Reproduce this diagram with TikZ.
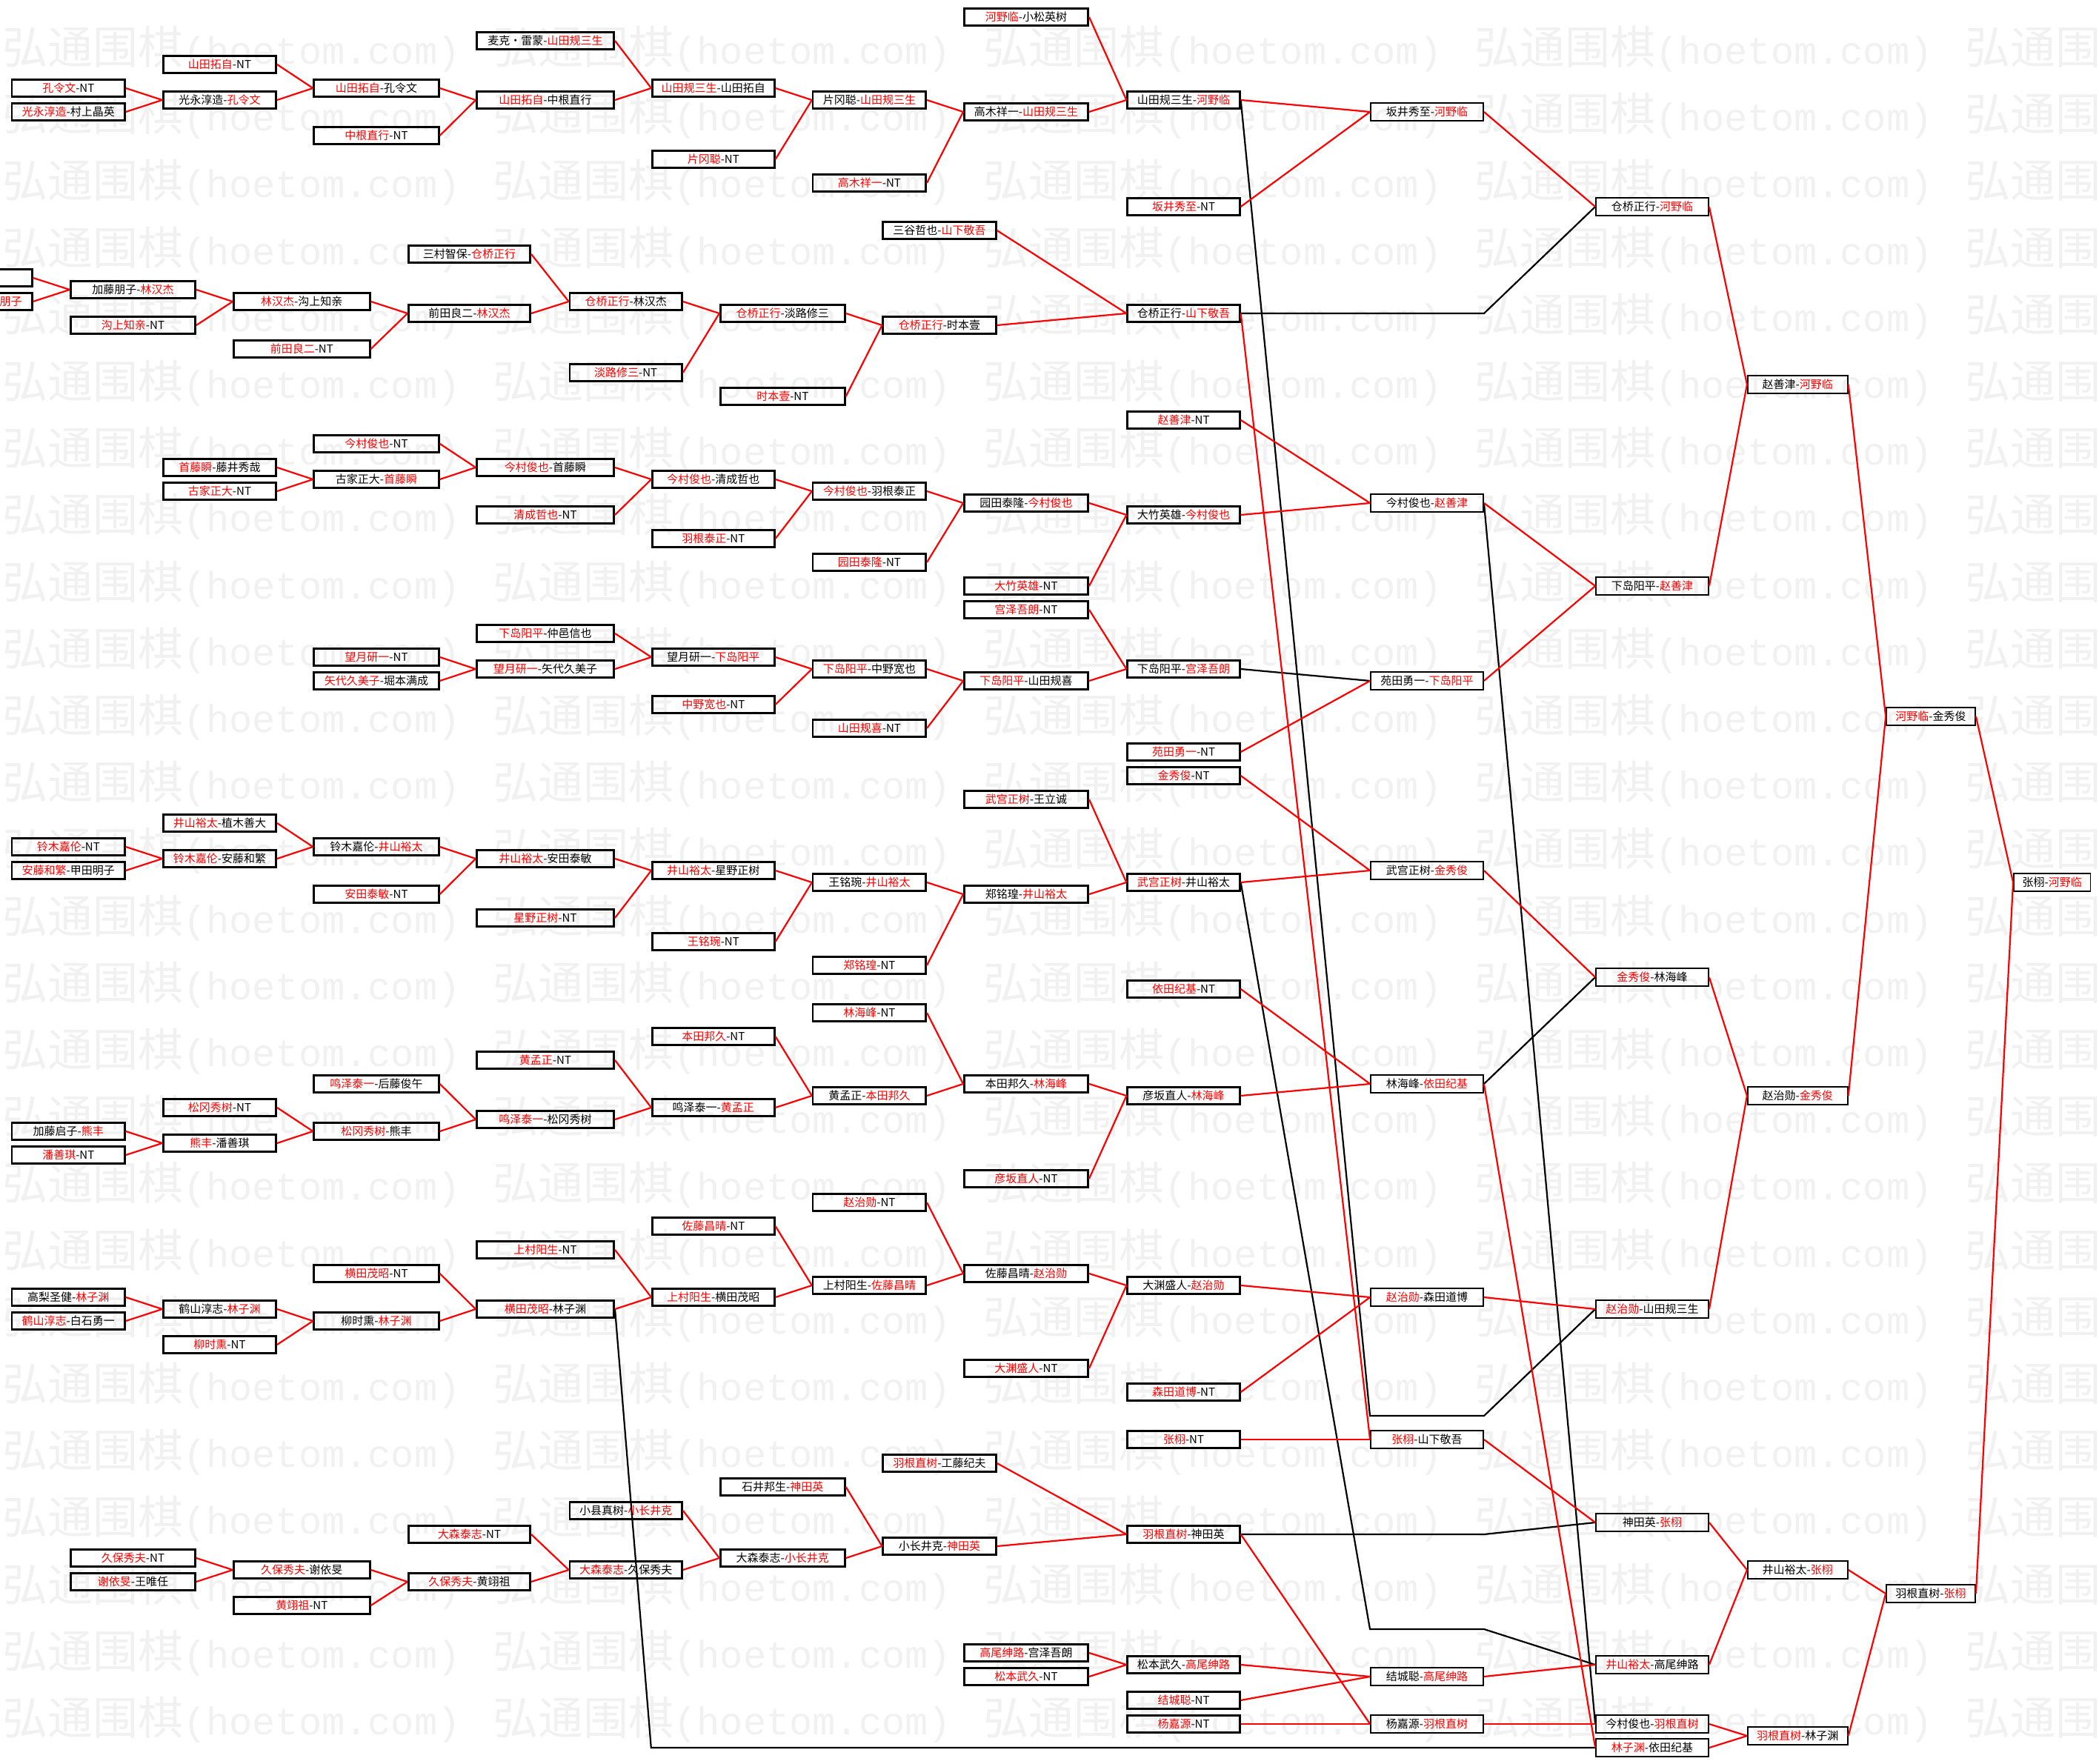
\documentclass[tikz,border=0pt]{standalone}
\usepackage{fontspec}
\setmainfont{Noto Sans CJK SC}
\newfontfamily\markcjk{Noto Sans CJK SC}
\newfontfamily\markmono{Liberation Mono}
\usepackage{xcolor}
\definecolor{WinRed}{HTML}{FF0000}
\definecolor{Mark}{HTML}{F1F1F1}
\newcommand{\win}[1]{\textcolor{WinRed}{#1}}
\newcommand{\hoetom}{{\markcjk\fontsize{61}{61}\selectfont 弘通围棋}{\markmono\fontsize{52}{52}\selectfont (hoetom.com)}}
\tikzset{
  tie/.style={draw=black, line width=2.6pt, minimum height=22.9pt, inner sep=0pt,
              font=\fontsize{15}{15}\selectfont},
  tieR/.style={tie, line width=1.8pt, minimum height=23.7pt},
  cA/.style={tie, minimum width=152.4pt},
  cB/.style={tie, minimum width=152.4pt},
  cC/.style={tie, minimum width=168.7pt},
  cD/.style={tie, minimum width=185.4pt},
  cE/.style={tie, minimum width=165pt},
  cF/.style={tie, minimum width=152.6pt},
  cG/.style={tie, minimum width=167.4pt},
  cH/.style={tie, minimum width=151.7pt},
  cI/.style={tieR, minimum width=152pt},
  cJ/.style={tieR, minimum width=152pt},
  cK/.style={tieR, minimum width=135pt},
  cL/.style={tieR, minimum width=120pt},
  cM/.style={tieR, minimum width=103.5pt},
  cP/.style={tie, minimum width=152.4pt},
  cBp/.style={tie, minimum width=168.2pt},
  cCp/.style={tie, minimum width=183.9pt},
  cDp/.style={tie, minimum width=164.4pt},
  cEp/.style={tie, minimum width=151.7pt},
  cFp/.style={tie, minimum width=168.2pt},
  cGp/.style={tie, minimum width=152.5pt},
  win/.style={draw=WinRed, line width=2.2pt},
  lose/.style={draw=black, line width=2.2pt},
  wmark/.style={text=Mark, anchor=west, inner sep=0pt},
}

\begin{document}
\begin{tikzpicture}[x=1pt, y=-16pt]
  \useasboundingbox (0,-1.4375) rectangle (2833,147.375);
  \fill[white] (0,-1.4375) rectangle (2833,147.375);
  % watermark
  \foreach \wr in {0,...,25}
    \foreach \wc in {0,...,4}
      \node[wmark] at ({3+662.3*\wc}, {2.706+5.6375*\wr}) {\hoetom};

  % top bracket
  \node[cA] (A6) at (92.3,6) {\win{孔令文}-NT};
  \node[cA] (A8) at (92.3,8) {\win{光永淳造}-村上晶英};
  \node[cB] (B4) at (296.5,4) {\win{山田拓自}-NT};
  \node[cB] (B7) at (296.5,7) {光永淳造-\win{孔令文}};
  \node[cC] (C6) at (508,6) {\win{山田拓自}-孔令文};
  \node[cC] (C10) at (508,10) {\win{中根直行}-NT};
  \node[cD] (D2) at (736,2) {麦克・雷蒙-\win{山田规三生}};
  \node[cD] (D7) at (736,7) {\win{山田拓自}-中根直行};
  \node[cE] (E6) at (962.8,6) {\win{山田规三生}-山田拓自};
  \node[cE] (E12) at (962.8,12) {\win{片冈聪}-NT};
  \node[cF] (F7) at (1173.4,7) {片冈聪-\win{山田规三生}};
  \node[cF] (F14) at (1173.4,14) {\win{高木祥一}-NT};
  \node[cG] (G0) at (1385,0) {\win{河野临}-小松英树};
  \node[cG] (G8) at (1385,8) {高木祥一-\win{山田规三生}};
  \node[cH] (H7) at (1597.5,7) {山田规三生-\win{河野临}};
  \node[cH] (H16) at (1597.5,16) {\win{坂井秀至}-NT};
  \node[cI] (I8) at (1926,8) {坂井秀至-\win{河野临}};
  \node[cJ] (J16) at (2230,16) {仓桥正行-\win{河野临}};
  \node[cK] (K31) at (2426.3,31) {赵善津-\win{河野临}};

  % second bracket
  \node[cP] (P22) at (-33,22) {};
  \node[cP] (P24) at (-33,24) {\hphantom{加藤朋子-}\win{加藤朋子}};
  \node[cBp] (Bp23) at (179.5,23) {加藤朋子-\win{林汉杰}};
  \node[cBp] (Bp26) at (179.5,26) {\win{沟上知亲}-NT};
  \node[cCp] (Cp24) at (407.3,24) {\win{林汉杰}-沟上知亲};
  \node[cCp] (Cp28) at (407.3,28) {\win{前田良二}-NT};
  \node[cDp] (Dp20) at (633.5,20) {三村智保-\win{仓桥正行}};
  \node[cDp] (Dp25) at (633.5,25) {前田良二-\win{林汉杰}};
  \node[cEp] (Ep24) at (844.7,24) {\win{仓桥正行}-林汉杰};
  \node[cEp] (Ep30) at (844.7,30) {\win{淡路修三}-NT};
  \node[cFp] (Fp25) at (1056.3,25) {\win{仓桥正行}-淡路修三};
  \node[cFp] (Fp32) at (1056.3,32) {\win{时本壹}-NT};
  \node[cGp] (Gp18) at (1268,18) {三谷哲也-\win{山下敬吾}};
  \node[cGp] (Gp26) at (1268,26) {\win{仓桥正行}-时本壹};
  \node[cH] (H25) at (1597.5,25) {仓桥正行-\win{山下敬吾}};

  % third bracket
  \node[cC] (C36) at (508,36) {\win{今村俊也}-NT};
  \node[cB] (B38) at (296.5,38) {\win{首藤瞬}-藤井秀哉};
  \node[cB] (B40) at (296.5,40) {\win{古家正大}-NT};
  \node[cC] (C39) at (508,39) {古家正大-\win{首藤瞬}};
  \node[cD] (D38) at (736,38) {\win{今村俊也}-首藤瞬};
  \node[cD] (D42) at (736,42) {\win{清成哲也}-NT};
  \node[cE] (E39) at (962.8,39) {\win{今村俊也}-清成哲也};
  \node[cE] (E44) at (962.8,44) {\win{羽根泰正}-NT};
  \node[cF] (F40) at (1173.4,40) {\win{今村俊也}-羽根泰正};
  \node[cF] (F46) at (1173.4,46) {\win{园田泰隆}-NT};
  \node[cG] (G41) at (1385,41) {园田泰隆-\win{今村俊也}};
  \node[cG] (G48) at (1385,48) {\win{大竹英雄}-NT};
  \node[cH] (H34) at (1597.5,34) {\win{赵善津}-NT};
  \node[cH] (H42) at (1597.5,42) {大竹英雄-\win{今村俊也}};
  \node[cI] (I41) at (1926,41) {今村俊也-\win{赵善津}};
  \node[cJ] (J48) at (2230,48) {下岛阳平-\win{赵善津}};

  % fourth bracket
  \node[cD] (D52) at (736,52) {\win{下岛阳平}-仲邑信也};
  \node[cC] (C54) at (508,54) {\win{望月研一}-NT};
  \node[cC] (C56) at (508,56) {\win{矢代久美子}-堀本满成};
  \node[cD] (D55) at (736,55) {\win{望月研一}-矢代久美子};
  \node[cE] (E54) at (962.8,54) {望月研一-\win{下岛阳平}};
  \node[cE] (E58) at (962.8,58) {\win{中野宽也}-NT};
  \node[cF] (F55) at (1173.4,55) {\win{下岛阳平}-中野宽也};
  \node[cF] (F60) at (1173.4,60) {\win{山田规喜}-NT};
  \node[cG] (G50) at (1385,50) {\win{宫泽吾朗}-NT};
  \node[cG] (G56) at (1385,56) {\win{下岛阳平}-山田规喜};
  \node[cH] (H55) at (1597.5,55) {下岛阳平-\win{宫泽吾朗}};
  \node[cH] (H62) at (1597.5,62) {\win{苑田勇一}-NT};
  \node[cH] (H64) at (1597.5,64) {\win{金秀俊}-NT};
  \node[cI] (I56) at (1926,56) {苑田勇一-\win{下岛阳平}};

  % fifth bracket
  \node[cB] (B68) at (296.5,68) {\win{井山裕太}-植木善大};
  \node[cA] (A70) at (92.3,70) {\win{铃木嘉伦}-NT};
  \node[cA] (A72) at (92.3,72) {\win{安藤和繁}-甲田明子};
  \node[cB] (B71) at (296.5,71) {\win{铃木嘉伦}-安藤和繁};
  \node[cC] (C70) at (508,70) {铃木嘉伦-\win{井山裕太}};
  \node[cC] (C74) at (508,74) {\win{安田泰敏}-NT};
  \node[cD] (D71) at (736,71) {\win{井山裕太}-安田泰敏};
  \node[cD] (D76) at (736,76) {\win{星野正树}-NT};
  \node[cE] (E72) at (962.8,72) {\win{井山裕太}-星野正树};
  \node[cE] (E78) at (962.8,78) {\win{王铭琬}-NT};
  \node[cF] (F73) at (1173.4,73) {王铭琬-\win{井山裕太}};
  \node[cF] (F80) at (1173.4,80) {\win{郑铭瑝}-NT};
  \node[cG] (G66) at (1385,66) {\win{武宫正树}-王立诚};
  \node[cG] (G74) at (1385,74) {郑铭瑝-\win{井山裕太}};
  \node[cH] (H73) at (1597.5,73) {\win{武宫正树}-井山裕太};
  \node[cI] (I72) at (1926,72) {武宫正树-\win{金秀俊}};
  \node[cJ] (J81) at (2230,81) {\win{金秀俊}-林海峰};
  \node[cL] (L59) at (2606,59) {\win{河野临}-金秀俊};
  \node[cM] (M73) at (2769.7,73) {张栩-\win{河野临}};

  % sixth bracket
  \node[cC] (C90) at (508,90) {\win{鸣泽泰一}-后藤俊午};
  \node[cB] (B92) at (296.5,92) {\win{松冈秀树}-NT};
  \node[cA] (A94) at (92.3,94) {加藤启子-\win{熊丰}};
  \node[cA] (A96) at (92.3,96) {\win{潘善琪}-NT};
  \node[cB] (B95) at (296.5,95) {\win{熊丰}-潘善琪};
  \node[cC] (C94) at (508,94) {\win{松冈秀树}-熊丰};
  \node[cD] (D88) at (736,88) {\win{黄孟正}-NT};
  \node[cD] (D93) at (736,93) {\win{鸣泽泰一}-松冈秀树};
  \node[cE] (E86) at (962.8,86) {\win{本田邦久}-NT};
  \node[cE] (E92) at (962.8,92) {鸣泽泰一-\win{黄孟正}};
  \node[cF] (F84) at (1173.4,84) {\win{林海峰}-NT};
  \node[cF] (F91) at (1173.4,91) {黄孟正-\win{本田邦久}};
  \node[cG] (G90) at (1385,90) {本田邦久-\win{林海峰}};
  \node[cG] (G98) at (1385,98) {\win{彦坂直人}-NT};
  \node[cH] (H82) at (1597.5,82) {\win{依田纪基}-NT};
  \node[cH] (H91) at (1597.5,91) {彦坂直人-\win{林海峰}};
  \node[cI] (I90) at (1926,90) {林海峰-\win{依田纪基}};
  \node[cK] (K91) at (2426.3,91) {赵治勋-\win{金秀俊}};

  % seventh bracket
  \node[cF] (F100) at (1173.4,100) {\win{赵治勋}-NT};
  \node[cE] (E102) at (962.8,102) {\win{佐藤昌晴}-NT};
  \node[cD] (D104) at (736,104) {\win{上村阳生}-NT};
  \node[cC] (C106) at (508,106) {\win{横田茂昭}-NT};
  \node[cA] (A108) at (92.3,108) {高梨圣健-\win{林子渊}};
  \node[cA] (A110) at (92.3,110) {\win{鹤山淳志}-白石勇一};
  \node[cB] (B109) at (296.5,109) {鹤山淳志-\win{林子渊}};
  \node[cB] (B112) at (296.5,112) {\win{柳时熏}-NT};
  \node[cC] (C110) at (508,110) {柳时熏-\win{林子渊}};
  \node[cD] (D109) at (736,109) {\win{横田茂昭}-林子渊};
  \node[cE] (E108) at (962.8,108) {\win{上村阳生}-横田茂昭};
  \node[cF] (F107) at (1173.4,107) {上村阳生-\win{佐藤昌晴}};
  \node[cG] (G106) at (1385,106) {佐藤昌晴-\win{赵治勋}};
  \node[cG] (G114) at (1385,114) {\win{大渊盛人}-NT};
  \node[cH] (H107) at (1597.5,107) {大渊盛人-\win{赵治勋}};
  \node[cH] (H116) at (1597.5,116) {\win{森田道博}-NT};
  \node[cH] (H120) at (1597.5,120) {\win{张栩}-NT};
  \node[cI] (I108) at (1926,108) {\win{赵治勋}-森田道博};
  \node[cI] (I120) at (1926,120) {\win{张栩}-山下敬吾};
  \node[cJ] (J109) at (2230,109) {\win{赵治勋}-山田规三生};

  % eighth bracket
  \node[cGp] (Gp122) at (1268,122) {\win{羽根直树}-工藤纪夫};
  \node[cFp] (Fp124) at (1056.3,124) {石井邦生-\win{神田英}};
  \node[cEp] (Ep126) at (844.7,126) {小县真树-\win{小长井克}};
  \node[cDp] (Dp128) at (633.5,128) {\win{大森泰志}-NT};
  \node[cBp] (Bp130) at (179.5,130) {\win{久保秀夫}-NT};
  \node[cBp] (Bp132) at (179.5,132) {\win{谢依旻}-王唯任};
  \node[cCp] (Cp131) at (407.3,131) {\win{久保秀夫}-谢依旻};
  \node[cCp] (Cp134) at (407.3,134) {\win{黄翊祖}-NT};
  \node[cDp] (Dp132) at (633.5,132) {\win{久保秀夫}-黄翊祖};
  \node[cEp] (Ep131) at (844.7,131) {\win{大森泰志}-久保秀夫};
  \node[cFp] (Fp130) at (1056.3,130) {大森泰志-\win{小长井克}};
  \node[cGp] (Gp129) at (1268,129) {小长井克-\win{神田英}};
  \node[cH] (H128) at (1597.5,128) {\win{羽根直树}-神田英};
  \node[cJ] (J127) at (2230,127) {神田英-\win{张栩}};
  \node[cK] (K131) at (2426.3,131) {井山裕太-\win{张栩}};
  \node[cL] (L133) at (2606,133) {羽根直树-\win{张栩}};
  \node[cG] (G138) at (1385,138) {\win{高尾绅路}-宫泽吾朗};
  \node[cG] (G140) at (1385,140) {\win{松本武久}-NT};
  \node[cH] (H139) at (1597.5,139) {松本武久-\win{高尾绅路}};
  \node[cH] (H142) at (1597.5,142) {\win{结城聪}-NT};
  \node[cH] (H144) at (1597.5,144) {\win{杨嘉源}-NT};
  \node[cI] (I140) at (1926,140) {结城聪-\win{高尾绅路}};
  \node[cI] (I144) at (1926,144) {杨嘉源-\win{羽根直树}};
  \node[cJ] (J139) at (2230,139) {\win{井山裕太}-高尾绅路};
  \node[cJ] (J144) at (2230,144) {今村俊也-\win{羽根直树}};
  \node[cJ] (J146) at (2230,146) {\win{林子渊}-依田纪基};
  \node[cK] (K145) at (2426.3,145) {\win{羽根直树}-林子渊};

  % losers' paths
  \foreach \a/\b in {H55/I56, I90/J81, I41/J144}
    \draw[lose] (\a.east) -- (\b.west);
  \draw[lose] (H7.east) -- (1849,118) -- (2003,118) -- (J109.west);
  \draw[lose] (H25.east) -- (2003,25) -- (J16.west);
  \draw[lose] (H73.east) -- (1849,136) -- (2003,136) -- (J139.west);
  \draw[lose] (H128.east) -- (2003,128) -- (J127.west);
  \draw[lose] (D109.east) -- (878.8,146) -- (J146.west);

  % winners' paths
  \foreach \a/\b in {A6/B7, A8/B7, B4/C6, B7/C6, C6/D7, C10/D7, D2/E6, D7/E6, E6/F7, E12/F7,
      F7/G8, F14/G8, G0/H7, G8/H7, H7/I8, H16/I8, I8/J16, J16/K31, K31/L59, L59/M73,
      P22/Bp23, P24/Bp23, Bp23/Cp24, Bp26/Cp24, Cp24/Dp25, Cp28/Dp25, Dp20/Ep24, Dp25/Ep24,
      Ep24/Fp25, Ep30/Fp25, Fp25/Gp26, Fp32/Gp26, Gp18/H25, Gp26/H25, H25/I120,
      B38/C39, B40/C39, C36/D38, C39/D38, D38/E39, D42/E39, E39/F40, E44/F40, F40/G41,
      F46/G41, G41/H42, G48/H42, H34/I41, H42/I41, I41/J48, J48/K31,
      C54/D55, C56/D55, D52/E54, D55/E54, E54/F55, E58/F55, F55/G56, F60/G56, G50/H55,
      G56/H55, H62/I56, I56/J48,
      A70/B71, A72/B71, B68/C70, B71/C70, C70/D71, C74/D71, D71/E72, D76/E72, E72/F73,
      E78/F73, F73/G74, F80/G74, G66/H73, G74/H73, H73/I72, H64/I72, I72/J81, J81/K91, K91/L59,
      A94/B95, A96/B95, B92/C94, B95/C94, C90/D93, C94/D93, D88/E92, D93/E92, E86/F91,
      E92/F91, F84/G90, F91/G90, G90/H91, G98/H91, H82/I90, H91/I90, I90/J146,
      A108/B109, A110/B109, B109/C110, B112/C110, C106/D109, C110/D109, D104/E108, D109/E108,
      E102/F107, E108/F107, F100/G106, F107/G106, G106/H107, G114/H107, H107/I108, H116/I108,
      I108/J109, J109/K91, H120/I120, I120/J127,
      Bp130/Cp131, Bp132/Cp131, Cp131/Dp132, Cp134/Dp132, Dp128/Ep131, Dp132/Ep131,
      Ep126/Fp130, Ep131/Fp130, Fp124/Gp129, Fp130/Gp129, Gp122/H128, Gp129/H128, H128/I144,
      H144/I144, I144/J144, J144/K145, J146/K145, K145/L133, J127/K131, J139/K131, K131/L133,
      L133/M73, G138/H139, G140/H139, H139/I140, H142/I140, I140/J139}
    \draw[win] (\a.east) -- (\b.west);
\end{tikzpicture}
\end{document}
